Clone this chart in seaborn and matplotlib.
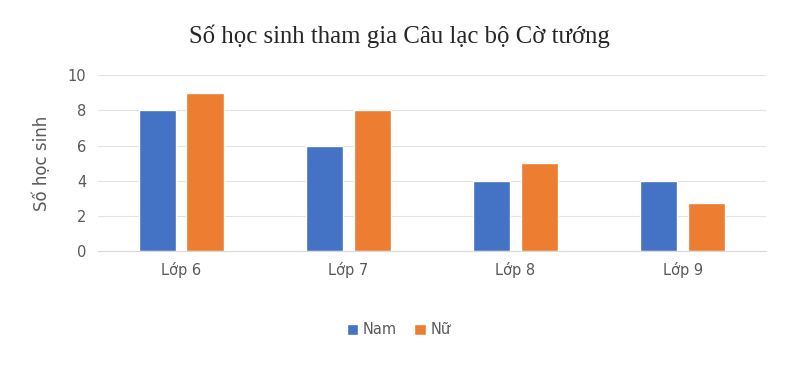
import pandas as pd
import matplotlib.pyplot as plt
import seaborn as sns

# Data
classes = ['Lớp 6', 'Lớp 7', 'Lớp 8', 'Lớp 9']
nam = [8, 6, 4, 4]
nu = [9, 8, 5, 2.75]

df = pd.DataFrame({
    'Lớp': classes * 2,
    'Số học sinh': nam + nu,
    'Giới tính': ['Nam'] * 4 + ['Nữ'] * 4,
})

sns.set_style('white')
plt.rcParams['font.family'] = ['DejaVu Sans']

fig = plt.figure(figsize=(7.94, 3.76), dpi=100)
ax = fig.add_axes([0.123, 0.332, 0.842, 0.468])

sns.barplot(data=df, x='Lớp', y='Số học sinh', hue='Giới tính',
            palette=['#4472C4', '#ED7D31'], width=0.57, gap=0.22,
            saturation=1, ax=ax)

ax.set_ylim(0, 10)
ax.set_yticks(range(0, 11, 2))
ax.yaxis.grid(True, color='#e3e3e3', linewidth=0.8)
ax.set_axisbelow(True)
for s in ['top', 'right', 'left']:
    ax.spines[s].set_visible(False)
ax.spines['bottom'].set_color('#d9d9d9')
ax.tick_params(axis='both', length=0, labelsize=10.5, colors='#595959', pad=8)
ax.set_xlabel('')
ax.set_ylabel('Số học sinh', fontsize=12, color='#595959', labelpad=12)

fig.suptitle('Số học sinh tham gia Câu lạc bộ Cờ tướng', family='Liberation Serif',
             fontsize=17.8, y=0.935, x=0.503)

ax.legend(loc='upper center', bbox_to_anchor=(0.45, -0.33), ncol=2, frameon=False,
          fontsize=10.5, handlelength=0.8, handleheight=0.8, columnspacing=1.2,
          handletextpad=0.3, labelcolor='#595959')

fig.savefig('out.png', dpi=100)
